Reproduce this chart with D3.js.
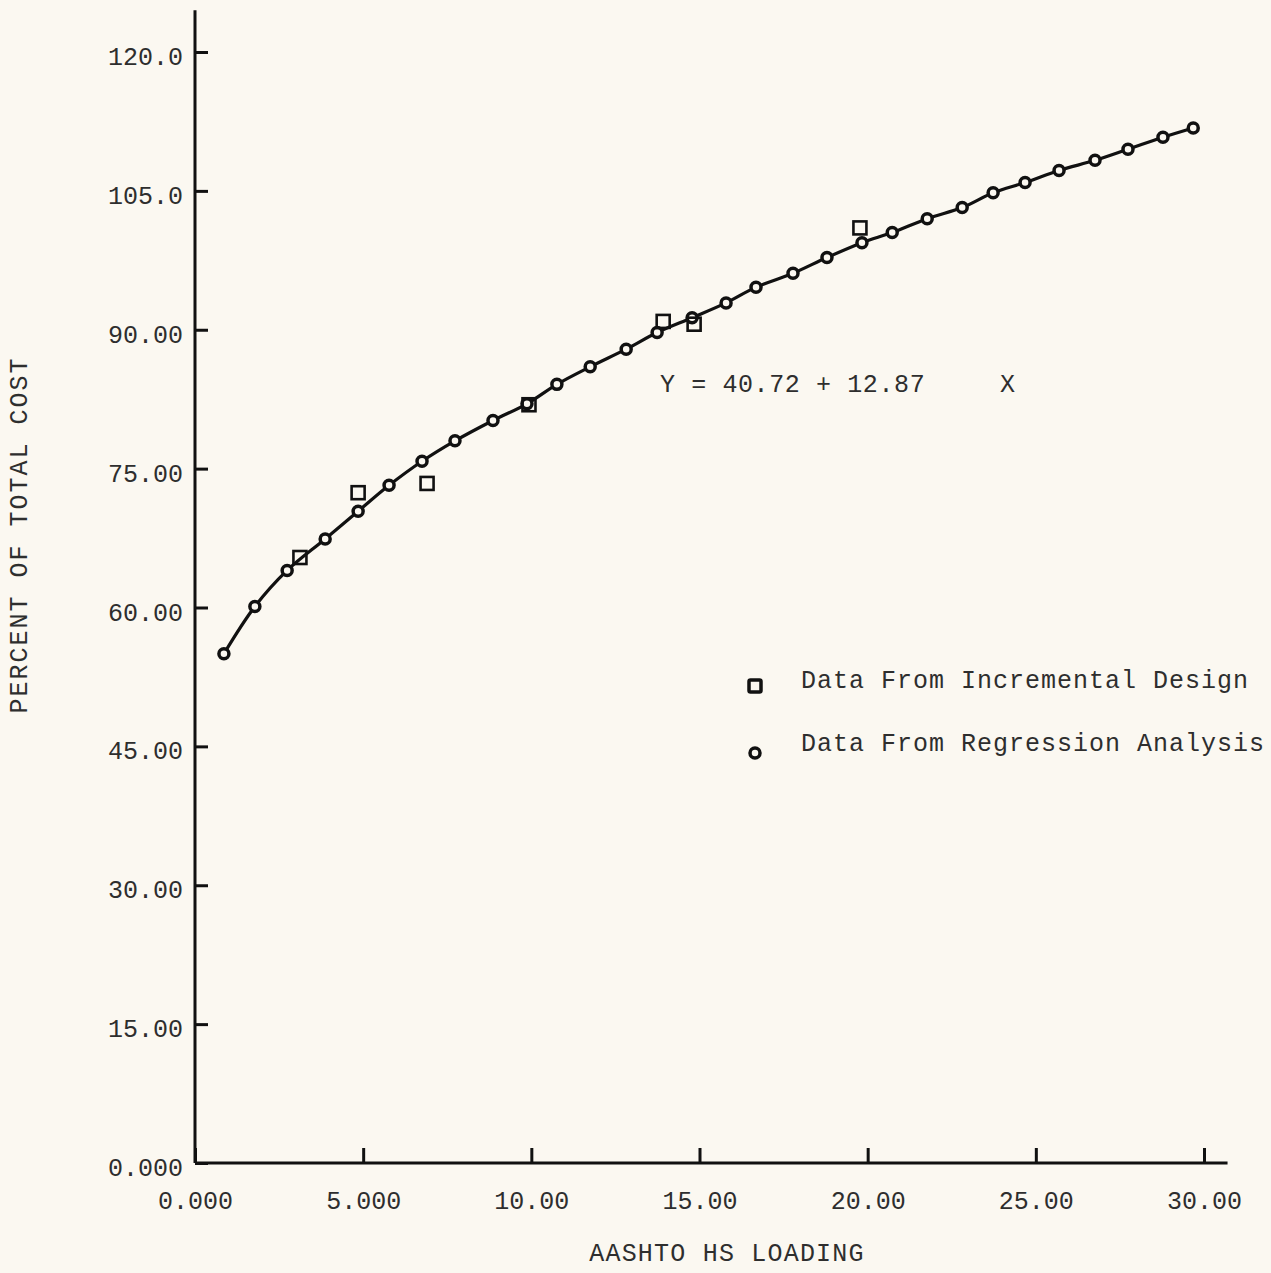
<!DOCTYPE html>
<html>
<head>
<meta charset="utf-8">
<script src="https://cdn.jsdelivr.net/npm/d3@7"></script>
<style>
  html, body { margin: 0; padding: 0; background: #fbf8f1; }
  svg { display: block; }
  text { font-family: "Liberation Mono", "DejaVu Sans Mono", monospace; fill: #2e2e2e; }
</style>
</head>
<body>
<svg id="chart"></svg>
<script>
"use strict";

// regression analysis points (HS loading, percent of total cost)
var regX = [0.86, 1.78, 2.74, 3.87, 4.85, 5.77, 6.75, 7.73, 8.86, 9.87,
            10.76, 11.75, 12.82, 13.74, 14.78, 15.79, 16.68, 17.78, 18.79, 19.83,
            20.73, 21.77, 22.81, 23.73, 24.68, 25.69, 26.76, 27.74, 28.78, 29.68];
var regY = [55.0, 60.1, 64.0, 67.4, 70.4, 73.2, 75.8, 78.0, 80.2, 82.0,
            84.1, 86.0, 87.9, 89.7, 91.3, 92.9, 94.6, 96.1, 97.8, 99.4,
            100.5, 102.0, 103.2, 104.8, 105.9, 107.2, 108.3, 109.5, 110.8, 111.8];

// incremental design points
var incX = [3.12, 4.85, 6.90, 9.93, 13.92, 14.84, 19.77];
var incY = [65.4, 72.4, 73.4, 81.9, 90.9, 90.6, 101.0];

var xTicks = [0, 5, 10, 15, 20, 25, 30];
var xTickLabels = ["0.000", "5.000", "10.00", "15.00", "20.00", "25.00", "30.00"];
var yTicks = [0, 15, 30, 45, 60, 75, 90, 105, 120];
var yTickLabels = ["0.000", "15.00", "30.00", "45.00", "60.00", "75.00", "90.00", "105.0", "120.0"];

var legendLabels = ["Data From Incremental Design", "Data From Regression Analysis"];

var W = 1271, H = 1273;

var svg = d3.select("#chart").attr("width", W).attr("height", H);

var x = d3.scaleLinear().domain([0, 30]).range([195, 1204]);
var y = d3.scaleLinear().domain([0, 120]).range([1163, 52]);

var ink = "#111";

// axis lines (extend a little past the last tick, like the original)
svg.append("line")
    .attr("x1", x(0)).attr("x2", x(0))
    .attr("y1", y(0)).attr("y2", y(124.5))
    .attr("stroke", ink).attr("stroke-width", 3);
svg.append("line")
    .attr("x1", x(0)).attr("x2", x(30.7))
    .attr("y1", y(0)).attr("y2", y(0))
    .attr("stroke", ink).attr("stroke-width", 3);

var yAxis = svg.append("g")
    .attr("transform", `translate(${x(0)},0)`)
    .call(d3.axisLeft(y)
      .tickValues(yTicks)
      .tickSizeInner(-13)
      .tickSizeOuter(0)
      .tickPadding(12)
      .tickFormat((d, i) => yTickLabels[i]));
yAxis.select(".domain").remove();
yAxis.selectAll(".tick line").attr("stroke", ink).attr("stroke-width", 3);
yAxis.selectAll(".tick text")
    .attr("font-size", 25).attr("dy", "0.5em")
    .attr("font-family", null).attr("fill", null);

var xAxis = svg.append("g")
    .attr("transform", `translate(0,${y(0)})`)
    .call(d3.axisBottom(x)
      .tickValues(xTicks)
      .tickSizeInner(-15)
      .tickSizeOuter(0)
      .tickPadding(28)
      .tickFormat((d, i) => xTickLabels[i]));
xAxis.select(".domain").remove();
xAxis.selectAll(".tick line").attr("stroke", ink).attr("stroke-width", 3);
xAxis.selectAll(".tick text")
    .attr("font-size", 25).attr("dy", "0.71em")
    .attr("font-family", null).attr("fill", null);

// axis titles
svg.append("text")
    .attr("transform", "translate(27,535) rotate(-90)")
    .attr("text-anchor", "middle")
    .attr("font-size", 25)
    .attr("letter-spacing", 2)
    .text("PERCENT OF TOTAL COST");
svg.append("text")
    .attr("x", 727).attr("y", 1261)
    .attr("text-anchor", "middle")
    .attr("font-size", 25)
    .attr("letter-spacing", 1.2)
    .text("AASHTO HS LOADING");

// fitted curve through regression points
var pts = regX.map((d, i) => [d, regY[i]]);
var line = d3.line()
    .x(d => x(d[0]))
    .y(d => y(d[1]))
    .curve(d3.curveCatmullRom);
svg.append("path")
    .attr("d", line(pts))
    .attr("fill", "none")
    .attr("stroke", ink)
    .attr("stroke-width", 3.2);

svg.append("g").selectAll("circle")
  .data(pts)
  .join("circle")
    .attr("cx", d => x(d[0]))
    .attr("cy", d => y(d[1]))
    .attr("r", 5)
    .attr("fill", "#fbf8f1")
    .attr("stroke", ink)
    .attr("stroke-width", 3.5);

var sq = 13;
svg.append("g").selectAll("rect")
  .data(incX.map((d, i) => [d, incY[i]]))
  .join("rect")
    .attr("x", d => x(d[0]) - sq / 2)
    .attr("y", d => y(d[1]) - sq / 2)
    .attr("width", sq).attr("height", sq)
    .attr("fill", "none")
    .attr("stroke", ink)
    .attr("stroke-width", 2.6);

// equation
svg.append("text")
    .attr("x", 660).attr("y", 392)
    .attr("font-size", 25)
    .attr("letter-spacing", 0.6)
    .text("Y = 40.72 + 12.87");
svg.append("text")
    .attr("x", 1000).attr("y", 392)
    .attr("font-size", 25)
    .text("X");

// legend
var legY = [686, 753];
var leg = svg.append("g");
leg.append("rect")
    .attr("x", 755 - 6).attr("y", legY[0] - 6)
    .attr("width", 12).attr("height", 12)
    .attr("rx", 1.5)
    .attr("fill", "none").attr("stroke", ink).attr("stroke-width", 3.5);
leg.append("circle")
    .attr("cx", 755).attr("cy", legY[1])
    .attr("r", 5)
    .attr("fill", "none").attr("stroke", ink).attr("stroke-width", 3.5);
leg.selectAll("text")
  .data(legendLabels)
  .join("text")
    .attr("x", 801)
    .attr("y", (d, i) => legY[i] + 2 - (i ? 4 : 0))
    .attr("font-size", 25)
    .attr("letter-spacing", 1)
    .text(d => d);
</script>
</body>
</html>
